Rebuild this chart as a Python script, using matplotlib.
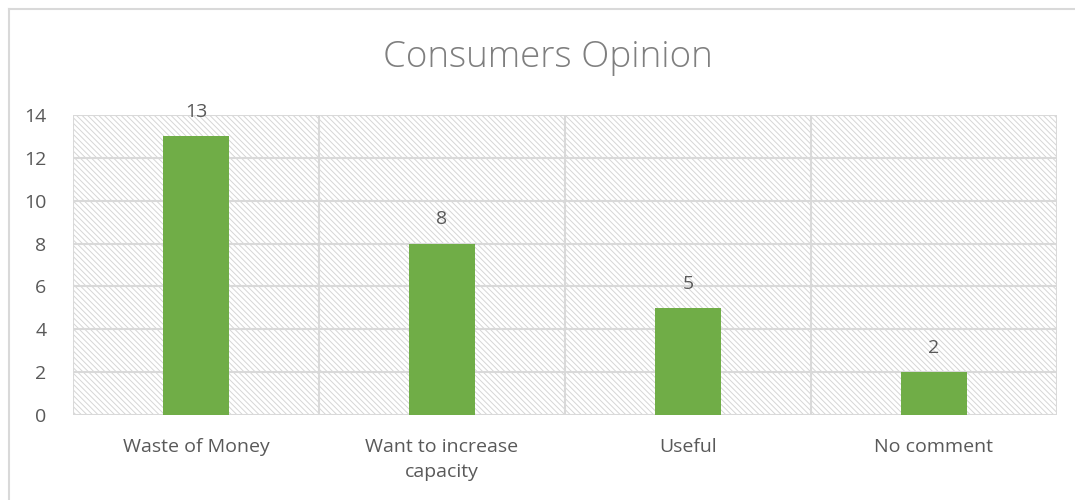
import matplotlib.pyplot as plt
from matplotlib.lines import Line2D

categories = ["Waste of Money", "Want to increase\ncapacity", "Useful", "No comment"]
values = [13, 8, 5, 2]
yticks = [0, 2, 4, 6, 8, 10, 12, 14]

plt.rcParams['font.family'] = ['Open Sans', 'DejaVu Sans']
plt.rcParams['hatch.linewidth'] = 0.7

grid_col = '#d9d9d9'
text_col = '#595959'

fig = plt.figure(figsize=(10.75, 5), dpi=100)
ax = fig.add_axes([73 / 1075, 85 / 500, 984 / 1075, 300 / 500])

# hatched plot area
ax.patch.set_facecolor('white')
ax.patch.set_hatch('\\' * 6)
ax.patch.set_edgecolor('#d6d6d6')

x = list(range(len(categories)))
bars = ax.bar(x, values, width=0.27, color='#70ad47', zorder=3)

for i, v in enumerate(values):
    ax.annotate(str(v), (x[i], v), xytext=(0, 11), textcoords='offset points',
                ha='center', va='bottom', fontsize=14, color=text_col)

ax.set_xlim(-0.5, len(categories) - 0.5)
ax.set_ylim(0, 14)
ax.set_yticks(yticks)
ax.set_xticks(x)
ax.set_xticklabels(categories)

# gridlines
for y in yticks:
    ax.axhline(y, color=grid_col, lw=1.5, zorder=1)
for b in [i - 0.5 for i in range(len(categories) + 1)]:
    ax.axvline(b, color=grid_col, lw=1.5, zorder=1)

for s in ax.spines.values():
    s.set_visible(False)
ax.tick_params(axis='both', length=0, labelsize=14, labelcolor=text_col)
ax.tick_params(axis='y', pad=19)
ax.tick_params(axis='x', pad=16.5)
for t in ax.get_xticklabels():
    t.set_linespacing(1.5)

fig.text(548 / 1075, 1 - 58 / 500, "Consumers Opinion", ha='center', va='center',
         fontsize=26.5, color='#7f7f7f', fontweight='light')

# outer chart border (only left and top visible)
fig.add_artist(Line2D([9 / 1075, 9 / 1075], [0, 1 - 9 / 500], color=grid_col, lw=1.5,
                      transform=fig.transFigure))
fig.add_artist(Line2D([9 / 1075, 1], [1 - 9 / 500, 1 - 9 / 500], color=grid_col, lw=1.5,
                      transform=fig.transFigure))

fig.savefig('out.png', dpi=100)
